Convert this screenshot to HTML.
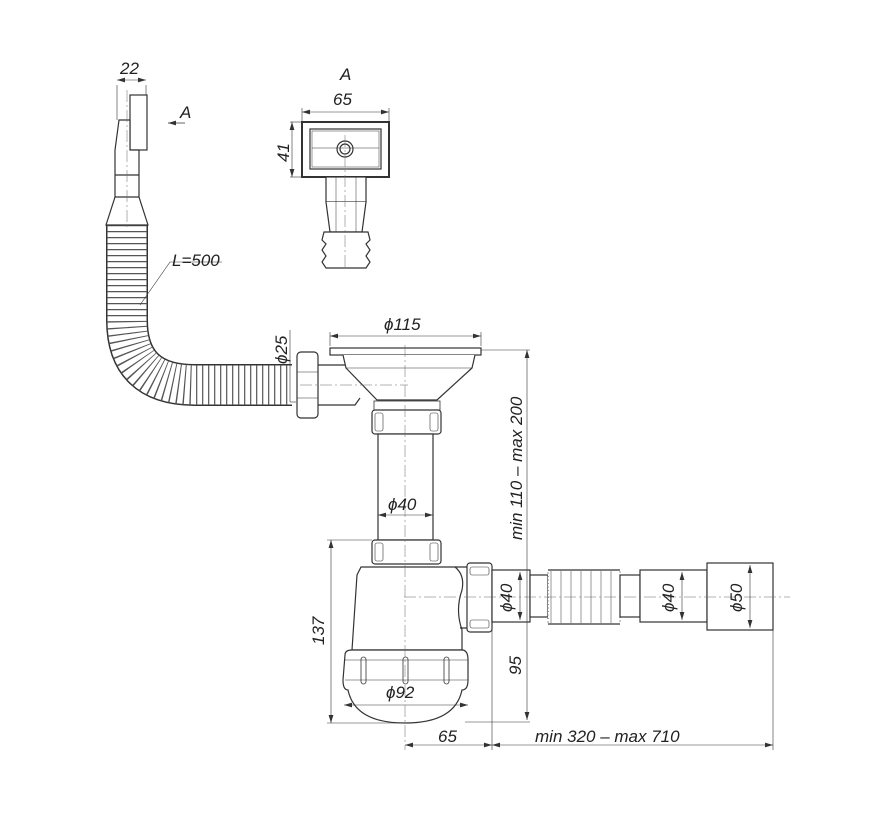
<!DOCTYPE html>
<html><head><meta charset="utf-8"><style>
html,body{margin:0;padding:0;background:#fff}
svg{display:block}
text{font-family:"Liberation Sans Narrow","Liberation Sans",sans-serif;font-style:italic;fill:#222}
</style></head><body>
<svg width="874" height="836" viewBox="0 0 874 836" xmlns="http://www.w3.org/2000/svg">
<defs>
<marker id="a" viewBox="0 0 10 6" refX="10" refY="3" markerWidth="8" markerHeight="5" orient="auto-start-reverse" markerUnits="userSpaceOnUse"><path d="M0 0 L10 3 L0 6 Z" fill="#333"/></marker>
</defs>
<g fill="none" stroke="#333" stroke-width="1.2">
<!-- overflow -->
<path d="M127 225 L127 320 Q127 385 195 385 L292 385" stroke="#333" stroke-width="42"/>
<path d="M127 225 L127 320 Q127 385 195 385 L292 385" stroke="#fff" stroke-width="39"/>
<path d="M127 225 L127 320 Q127 385 195 385 L292 385" stroke="#555" stroke-width="40" stroke-dasharray="1.2 4.8"/>
<rect x="130" y="95" width="17" height="55" fill="#fff"/>
<path d="M119 120 L130 120 L130 150 L139 150 L139 197 L148 225 L106 225 L115 197 L115 150 Z" fill="#fff"/>
<line x1="115" y1="175" x2="139" y2="175"/>
<line x1="115" y1="197" x2="139" y2="197"/>
<!-- 22 dim -->
<line x1="117" y1="85" x2="117" y2="120" stroke-width=".6"/>
<line x1="146" y1="85" x2="146" y2="95" stroke-width=".6"/>
<line x1="117" y1="80" x2="146" y2="80" stroke-width=".6" marker-start="url(#a)" marker-end="url(#a)"/>
<line x1="185" y1="123" x2="168" y2="123" stroke-width=".8" marker-end="url(#a)"/>
<!-- view A -->
<line x1="302" y1="112" x2="389" y2="112" stroke-width=".6" marker-start="url(#a)" marker-end="url(#a)"/>
<line x1="302" y1="108" x2="302" y2="121" stroke-width=".6"/>
<line x1="389" y1="108" x2="389" y2="121" stroke-width=".6"/>
<line x1="292" y1="122" x2="292" y2="177" stroke-width=".6" marker-start="url(#a)" marker-end="url(#a)"/>
<line x1="290" y1="122" x2="302" y2="122" stroke-width=".6"/>
<line x1="290" y1="177" x2="302" y2="177" stroke-width=".6"/>
<rect x="302" y="122" width="87" height="55" stroke-width="2"/>
<rect x="310" y="129" width="71" height="40"/>
<rect x="312" y="131" width="67" height="36" stroke-width=".5"/>
<line x1="312" y1="148" x2="379" y2="148" stroke-width=".6"/>
<circle cx="345" cy="149" r="8"/><circle cx="345" cy="149" r="5"/>
<rect x="326" y="177" width="40" height="25" fill="#fff"/>
<path d="M326 202 L330 232 L362 232 L366 202" fill="#fff"/>
<path d="M324 232 L368 232 L370 240 L366 244 L370 250 L366 256 L370 262 L366 268 L326 268 L322 262 L326 256 L322 250 L326 244 L322 240 Z" fill="#fff"/>
<line x1="336" y1="177" x2="336" y2="232" stroke-width=".5"/><line x1="356" y1="177" x2="356" y2="232" stroke-width=".5"/>
<!-- L=500 leader -->
<path d="M140 305 L170 262 L222 262" stroke-width=".6"/>
<!-- strainer -->
<line x1="330" y1="336" x2="481" y2="336" stroke-width=".6" marker-start="url(#a)" marker-end="url(#a)"/>
<line x1="330" y1="332" x2="330" y2="346" stroke-width=".6"/>
<line x1="481" y1="332" x2="481" y2="346" stroke-width=".6"/>
<rect x="330" y="348" width="151" height="7" fill="#fff"/>
<line x1="481" y1="350" x2="530" y2="350" stroke-width=".6"/>
<path d="M343 355 L346 368 L377 400 L437 400 L472 368 L475 355" fill="#fff"/>
<line x1="346" y1="368" x2="472" y2="368" stroke-width=".6"/>
<path d="M318 365 L345 365 M318 405 L355 405 L360 398" />
<rect x="297" y="352" width="21" height="66" rx="4" fill="#fff"/>
<line x1="297" y1="372" x2="318" y2="372" stroke-width=".6"/><line x1="297" y1="398" x2="318" y2="398" stroke-width=".6"/>
<line x1="290" y1="330" x2="290" y2="402" stroke-width=".6"/>
<line x1="290" y1="402" x2="296" y2="402" stroke-width=".6"/>
<rect x="374" y="401" width="66" height="9" stroke-width=".8"/>
<rect x="372" y="410" width="69" height="24" rx="3" fill="#fff"/>
<rect x="375" y="413" width="8" height="18" rx="2" stroke-width=".6"/><rect x="430" y="413" width="8" height="18" rx="2" stroke-width=".6"/>
<rect x="378" y="434" width="55" height="106" fill="#fff"/>
<line x1="378" y1="515" x2="433" y2="515" stroke-width=".6" marker-start="url(#a)" marker-end="url(#a)"/>
<rect x="372" y="540" width="69" height="24" rx="3" fill="#fff"/>
<rect x="375" y="543" width="8" height="18" rx="2" stroke-width=".6"/><rect x="430" y="543" width="8" height="18" rx="2" stroke-width=".6"/>
<!-- trap -->
<path d="M361 567 L455 567 Q465 575 462 590 Q455 610 462 630 L462 650 L352 650 L357 575 Z" fill="#fff"/>
<path d="M345 655 Q345 650 352 650 L462 650 Q468 650 468 660 L468 680 Q468 690 462 690 Q455 723 405 723 Q355 723 348 690 Q343 690 343 680 Z" fill="#fff"/>
<line x1="345" y1="660" x2="468" y2="660" stroke-width=".6"/><line x1="345" y1="680" x2="468" y2="680" stroke-width=".6"/>
<rect x="361" y="657" width="5" height="27" rx="2.5" stroke-width=".8"/><rect x="403" y="657" width="5" height="27" rx="2.5" stroke-width=".8"/><rect x="444" y="657" width="5" height="27" rx="2.5" stroke-width=".8"/>
<line x1="344" y1="705" x2="468" y2="705" stroke-width=".6" marker-start="url(#a)" marker-end="url(#a)"/>
<!-- outlet -->
<path d="M455 567 L470 567 M460 628 L470 628"/>
<rect x="467" y="563" width="25" height="69" rx="3" fill="#fff"/>
<rect x="470" y="567" width="19" height="8" rx="2" stroke-width=".6"/><rect x="470" y="620" width="19" height="8" rx="2" stroke-width=".6"/>
<rect x="492" y="570" width="38" height="52" fill="#fff"/>
<rect x="530" y="575" width="18" height="42" fill="#fff"/>
<rect x="548" y="570" width="72" height="54" fill="#fff" stroke-dasharray="1 2.5" stroke-width="1"/>
<line x1="548" y1="570" x2="620" y2="570"/><line x1="548" y1="624" x2="620" y2="624"/>
<path d="M551 571 L551 623 M561 571 L561 623 M571 571 L571 623 M581 571 L581 623 M591 571 L591 623 M601 571 L601 623 M611 571 L611 623" stroke-width=".5"/>
<rect x="620" y="575" width="20" height="42" fill="#fff"/>
<rect x="640" y="570" width="67" height="52" fill="#fff"/>
<rect x="707" y="563" width="66" height="67" fill="#fff"/>
<!-- centerlines -->
<g stroke="#666" stroke-width=".5" stroke-dasharray="12 3 2 3">
<line x1="405" y1="345" x2="405" y2="750"/>
<line x1="404" y1="597" x2="790" y2="597"/>
<line x1="300" y1="385" x2="408" y2="385"/>
<line x1="345" y1="135" x2="345" y2="268"/>
<line x1="127" y1="90" x2="127" y2="230"/>
</g>
<!-- dims -->
<g stroke-width=".6">
<line x1="527" y1="350" x2="527" y2="720" marker-start="url(#a)" marker-end="url(#a)"/>
<line x1="465" y1="722" x2="530" y2="722"/>
<line x1="492" y1="570" x2="492" y2="750"/>
<line x1="331" y1="540" x2="331" y2="723" marker-start="url(#a)" marker-end="url(#a)"/>
<line x1="327" y1="540" x2="372" y2="540"/>
<line x1="327" y1="723" x2="400" y2="723"/>
<line x1="405" y1="745" x2="492" y2="745" marker-start="url(#a)" marker-end="url(#a)"/>
<line x1="492" y1="745" x2="773" y2="745" marker-start="url(#a)" marker-end="url(#a)"/>
<line x1="773" y1="630" x2="773" y2="750"/>
<line x1="520" y1="572" x2="520" y2="620" marker-start="url(#a)" marker-end="url(#a)"/>
<line x1="682" y1="572" x2="682" y2="620" marker-start="url(#a)" marker-end="url(#a)"/>
<line x1="750" y1="565" x2="750" y2="628" marker-start="url(#a)" marker-end="url(#a)"/>
</g>
</g>
<g font-size="17">
<text x="120" y="74">22</text>
<text x="180" y="118">A</text>
<text x="340" y="80">A</text>
<text x="333" y="105">65</text>
<text x="172" y="266">L=500</text>
<text x="384" y="330">ϕ115</text>
<text x="388" y="510">ϕ40</text>
<text x="386" y="698">ϕ92</text>
<text x="438" y="742">65</text>
<text x="535" y="742">min 320 – max 710</text>
<text transform="translate(289,162) rotate(-90)">41</text>
<text transform="translate(287,364) rotate(-90)">ϕ25</text>
<text transform="translate(522,540) rotate(-90)">min 110 – max 200</text>
<text transform="translate(324,645) rotate(-90)">137</text>
<text transform="translate(521,675) rotate(-90)">95</text>
<text transform="translate(512,612) rotate(-90)">ϕ40</text>
<text transform="translate(674,612) rotate(-90)">ϕ40</text>
<text transform="translate(742,612) rotate(-90)">ϕ50</text>
</g>
</svg>
</body></html>
